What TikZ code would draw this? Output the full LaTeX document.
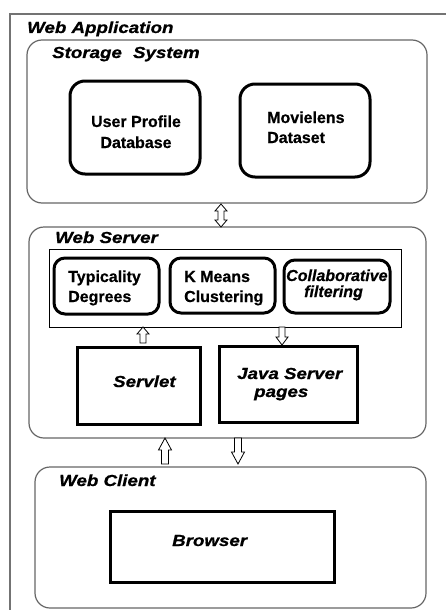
\documentclass[tikz,border=0pt]{standalone}
\usepackage{fontspec}
\setmainfont{Liberation Sans}[BoldFeatures={FakeBold=0.6},BoldItalicFeatures={FakeBold=0.6}]
\newfontfamily\widefont{Liberation Sans}[FakeStretch=1.17,BoldFeatures={FakeBold=0.8},BoldItalicFeatures={FakeBold=0.8}]
\begin{document}
\begin{tikzpicture}[x=1pt,y=-1pt,
  container/.style={draw=black!60, line width=1.2pt, rounded corners=15pt, inner sep=0pt},
  dbbox/.style={draw=black, line width=3pt, rounded corners=15pt, inner sep=0pt},
  algbox/.style={draw=black, line width=3pt, rounded corners=11pt, inner sep=0pt},
  sqbox/.style={draw=black, line width=3pt, inner sep=0pt},
  thinbox/.style={draw=black, line width=0.9pt, inner sep=0pt},
  lbl/.style={anchor=base west, inner sep=0pt, font=\widefont\bfseries\itshape\fontsize{16}{19}\selectfont},
  txt/.style={anchor=base west, inner sep=0pt, font=\bfseries\fontsize{16}{19}\selectfont},
  itxt/.style={anchor=base west, inner sep=0pt, font=\bfseries\itshape\fontsize{16}{19}\selectfont},
  blk/.style={draw=black, line width=0.8pt, fill=white, line join=miter}
]
\useasboundingbox (0,0) rectangle (446,610);
% outer frame
\coordinate (frTR) at (446,14);
\coordinate (frTL) at (10,14);
\coordinate (frBL) at (10,610);
\draw[black!55, line width=1.2pt] (frTR) -- (frTL) -- (frBL);
\node[lbl] (tapp) at (27,33) {Web Application};

% storage system
\node[container, minimum width=400pt, minimum height=163pt] (storage) at (227,121.5) {};
\node[lbl] (tstor) at (52,58) {Storage\hspace{6pt} System};
\node[dbbox, minimum width=130pt, minimum height=93pt] (upd) at (135,127.5) {};
\node[txt, anchor=base] (tupd1) at (136,127) {User Profile};
\node[txt, anchor=base] (tupd2) at (136,148) {Database};
\node[dbbox, minimum width=130pt, minimum height=93pt] (ml) at (305,130.5) {};
\node[txt] (tml1) at (267,123) {Movielens};
\node[txt] (tml2) at (267,143) {Dataset};

% web server
\node[container, minimum width=397pt, minimum height=211pt] (server) at (227.5,332.5) {};
\node[lbl] (tserv) at (55,243) {Web Server};
\node[thinbox, minimum width=352pt, minimum height=78pt] (algo) at (225,288) {};
\node[algbox, minimum width=105pt, minimum height=56pt] (typ) at (106.5,286) {};
\node[txt] (ttyp1) at (68,282) {Typicality};
\node[txt] (ttyp2) at (68,302) {Degrees};
\node[algbox, minimum width=105pt, minimum height=55pt] (km) at (222.5,285.5) {};
\node[txt] (tkm1) at (184,282) {K Means};
\node[txt] (tkm2) at (184,302) {Clustering};
\node[algbox, minimum width=106pt, minimum height=53pt] (cf) at (337,286.5) {};
\node[itxt] (tcf1) at (286,281) {Collaborative};
\node[itxt] (tcf2) at (304,297) {filtering};
\node[sqbox, minimum width=123pt, minimum height=77pt] (servlet) at (138.5,385.5) {};
\node[lbl] (tsvl) at (113,387) {Servlet};
\node[sqbox, minimum width=138pt, minimum height=76pt] (jsp) at (288,384) {};
\node[lbl] (tjsp1) at (237,379) {Java Server};
\node[lbl] (tjsp2) at (254,397) {pages};

% web client
\node[container, minimum width=391pt, minimum height=141pt] (client) at (230.5,537.5) {};
\node[lbl] (tcli) at (59,486) {Web Client};
\node[sqbox, minimum width=224pt, minimum height=71pt] (browser) at (222,546.5) {};
\node[lbl] (tbr) at (172,546) {Browser};

% block arrows
% storage <-> server
\coordinate (d1) at (221,204);
\coordinate (d2) at (221,227);
\draw[blk] (d1) -- ++(6,7) -- ++(-3,0) -- ++(0,9) -- ++(3,0) -- (d2) -- ++(-6,-7) -- ++(3,0) -- ++(0,-9) -- ++(-3,0) -- cycle;
% servlet -> algo (up)
\coordinate (u1) at (143,327);
\draw[blk] (u1) -- ++(6,7) -- ++(-3,0) -- ++(0,9) -- ++(-6,0) -- ++(0,-9) -- ++(-3,0) -- cycle;
% algo -> jsp (down)
\coordinate (v1) at (282,345);
\draw[blk] (v1) -- ++(6,-8) -- ++(-3,0) -- ++(0,-10) -- ++(-6,0) -- ++(0,10) -- ++(-3,0) -- cycle;
% client -> server (up)
\coordinate (u2) at (165,438);
\draw[blk] (u2) -- ++(6.5,12) -- ++(-3,0) -- ++(0,14) -- ++(-7,0) -- ++(0,-14) -- ++(-3,0) -- cycle;
% server -> client (down)
\coordinate (v2) at (238,464);
\draw[blk] (v2) -- ++(6.5,-12) -- ++(-3,0) -- ++(0,-14) -- ++(-7,0) -- ++(0,14) -- ++(-3,0) -- cycle;
\end{tikzpicture}
\end{document}
